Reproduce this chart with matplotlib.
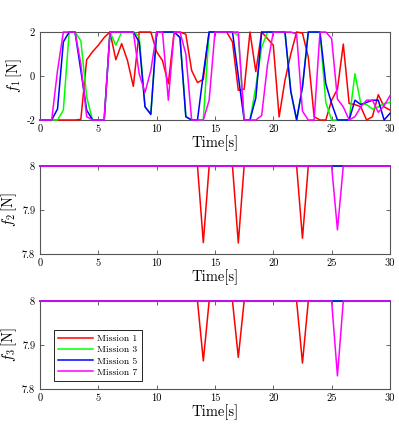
import matplotlib
matplotlib.use('Agg')
import matplotlib.pyplot as plt
from matplotlib.ticker import FuncFormatter
import numpy as np

plt.rcParams['font.family'] = ['cmr10', 'DejaVu Serif']
plt.rcParams['mathtext.fontset'] = 'cm'
plt.rcParams['axes.unicode_minus'] = False

# sample times (0.5 s steps)
time = np.arange(0, 30.5, 0.5)

# f1 per mission
f1_m1 = [-2, -2, -2, -2, -2, -2, -2, -1.97,
         0.74, 1.1, 1.4, 1.75, 2, 0.74, 1.47, 0.7,
         -0.47, 2, 2, 2, 1.1, 0.7, -0.35, 2,
         2, 1.9, 0.25, -0.3, -0.15, 2, 2, 2,
         2, 1.55, -0.65, -0.6, 2, 0.2, 2, 1.7,
         1.4, -1.86, -0.2, 1.0, 2, 1.95, 0.85, -1.85,
         -2, -2, -1.1, -0.6, 1.45, -1.25, -1.3, -1.4,
         -2, -1.85, -0.85, -1.4, -1.55]
f1_m3 = [-2, -2, -2, -2, -1.55, 2, 2, 1.6,
         -0.95, -2, -2, -2, 2, 1.4, 2, 2,
         2, 1.8, -1.4, -1.7, 2, 2, 2, 2,
         1.75, -1.85, -2, -2, -2, 2, 2, 2,
         2, 2, 1.85, -2, -2, -0.5, 1.3, 2,
         2, 2, 2, -0.7, -2, -0.5, 2, 2,
         2, -1.2, -2, -2, -2, -2, 0.1, -1.25,
         -1.3, -1.5, -1.4, -1.25, -1.2]
f1_m5 = [-2, -2, -2, -1.5, 1.55, 2, 2, 0.25,
         -1.55, -2, -2, -2, 2, 2, 2, 2,
         2, 1.55, -1.4, -1.75, 2, 2, 2, 2,
         1.75, -1.85, -2, -2, 0.1, 2, 2, 2,
         2, 2, 0.0, -2, -2, -1.0, 2, 2,
         2, 2, 2, -0.7, -2, -0.5, 2, 2,
         2, -0.35, -1.25, -2, -2, -2, -1.1, -1.3,
         -1.2, -1.1, -1.1, -2, -1.7]
f1_m7 = [-2, -2, -2, 0.25, 2, 2, 2, 0.55,
         -1.85, -2, -2, -2, 2, 2, 2, 2,
         2, 0.1, -0.75, 0.25, 2, 2, -1.1, 2,
         2, 1.0, -2, -2, -2, -1.1, 2, 2,
         2, 2, 2, -2, -2, -2, -1.8, 0.5,
         2, 2, 2, 2, 1.9, -1.6, -2, -2,
         2, 2, 1.7, -1.05, -1.4, -2, -1.85, -1.4,
         -1.1, -1.1, -1.65, -1.35, -0.9]

# f2 / f3: constant 8 N with single-sample dips (time, value)
f2_dips = {'m1': [(14, 7.826), (17, 7.825), (22.5, 7.836)], 'm3': [], 'm5': [],
           'm7': [(25.5, 7.855)]}
f3_dips = {'m1': [(14, 7.864), (17, 7.872), (22.5, 7.859)], 'm3': [], 'm5': [],
           'm7': [(25.5, 7.830)]}

labels = ['Mission 1', 'Mission 3', 'Mission 5', 'Mission 7']
keys = ['m1', 'm3', 'm5', 'm7']
colors = ['#ff0000', '#00ff00', '#0000ff', '#ff00ff']


def with_dips(dips):
    y = np.full(len(time), 8.0)
    for t, v in dips:
        y[int(round(t / 0.5))] = v
    return y


fmt = FuncFormatter(lambda v, p: '%g' % v)


def style(ax, ylab):
    ax.set_xlim(0, 30)
    ax.set_xticks([0, 5, 10, 15, 20, 25, 30])
    ax.xaxis.set_major_formatter(fmt)
    ax.yaxis.set_major_formatter(fmt)
    ax.tick_params(direction='in', length=3, width=0.5, labelsize=7.5,
                   top=True, right=True, colors='#262626', labelcolor='black')
    for s in ax.spines.values():
        s.set_linewidth(0.8)
        s.set_color('#555555')
    ax.set_xlabel('Time[s]', fontsize=10.5, labelpad=1)
    ax.set_ylabel(ylab, fontsize=10.5, labelpad=2)


fig = plt.figure(figsize=(3.99, 4.24), dpi=100)
ax1 = fig.add_axes([0.1003, 0.717, 0.877, 0.2075])
ax2 = fig.add_axes([0.1003, 0.4009, 0.877, 0.2075])
ax3 = fig.add_axes([0.1003, 0.0825, 0.877, 0.2075])

for y, c, l in zip([f1_m1, f1_m3, f1_m5, f1_m7], colors, labels):
    ax1.plot(time, y, color=c, lw=1.1, label=l, clip_on=False, zorder=3)
ax1.set_ylim(-2, 2)
ax1.set_yticks([-2, 0, 2])
style(ax1, r'$f_1\,$[N]')

for k, c, l in zip(keys, colors, labels):
    ax2.plot(time, with_dips(f2_dips[k]), color=c, lw=1.1, label=l,
             clip_on=False, zorder=3)
    ax3.plot(time, with_dips(f3_dips[k]), color=c, lw=1.1, label=l,
             clip_on=False, zorder=3)
for ax, lab in [(ax2, r'$f_2\,$[N]'), (ax3, r'$f_3\,$[N]')]:
    ax.set_ylim(7.8, 8)
    ax.set_yticks([7.8, 7.9, 8])
    style(ax, lab)

leg = ax3.legend(loc='lower left', bbox_to_anchor=(0.025, 0.04), fontsize=7,
                 handlelength=3.6, handletextpad=0.5, borderpad=0.4,
                 labelspacing=0.25, fancybox=False, framealpha=1)
leg.get_frame().set_edgecolor('black')
leg.get_frame().set_linewidth(0.6)
leg.set_zorder(5)

fig.savefig('out.png', dpi=100)
